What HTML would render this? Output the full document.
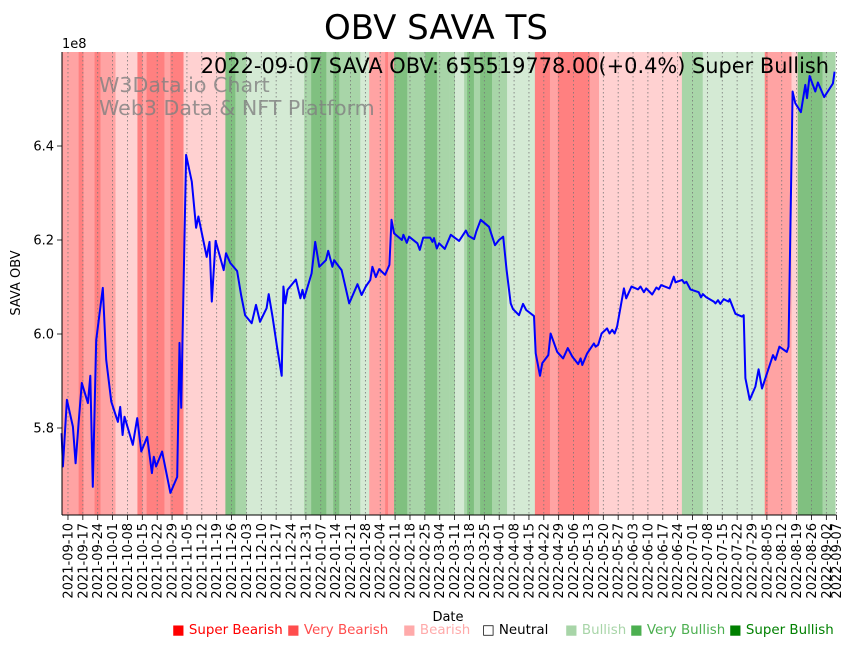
<!DOCTYPE html>
<html><head><meta charset="utf-8"><style>
html,body{margin:0;padding:0;background:#fff;}
svg{display:block;font-family:"DejaVu Sans","Liberation Sans",sans-serif;}
</style></head><body>
<svg id="chart" width="855" height="646" viewBox="0 0 855 646" xmlns="http://www.w3.org/2000/svg">
<rect width="855" height="646" fill="#fff"/>
<text x="436" y="39" font-size="34" text-anchor="middle">OBV SAVA TS</text>
<g id="bands"></g>
<g id="grid"></g>
<text x="99" y="92" font-size="20.6" fill="#808080" fill-opacity="0.8">W3Data.io Chart</text>
<text x="99" y="115" font-size="20.6" fill="#808080" fill-opacity="0.8">Web3 Data &amp; NFT Platform</text>
<g id="line"></g>
<text x="829" y="73" font-size="20.9" text-anchor="end">2022-09-07 SAVA OBV: 655519778.00(+0.4%) Super Bullish</text>
<g id="axes"></g>
<text x="62" y="48" font-size="13">1e8</text>
<text transform="translate(20,283) rotate(-90)" font-size="13" text-anchor="middle">SAVA OBV</text>
<text x="448" y="621" font-size="13" text-anchor="middle">Date</text>
<g id="legend" font-size="13.4"></g>
</svg>
<script>
const dayOffsets=[0,0.6,2.5,5.3,6.6,8,9.5,12.4,13.5,14.7,16.3,19.4,21,23.4,26.5,27.6,28.7,29.6,33.5,35.6,37.5,40.3,42.5,43.4,44.5,47.3,51.2,54.4,55.5,56.3,58.6,61.3,63.3,64.4,68.3,69.6,70.7,72.5,76.3,77.4,79.4,82.6,84.5,86.4,89.5,91.5,93.4,96.5,97.5,99.3,101.4,103.6,104.4,105.3,106.4,110.3,112.4,113.4,114.2,117.7,119.4,121.3,124.4,125.5,127.5,128.3,131.8,135.4,139.3,141.2,143.2,145.3,146.3,147.9,149.5,152.3,154.3,155.3,156.5,160.2,160.9,162.5,163.6,167.5,168.6,170.2,173.5,174.6,175.3,176.6,177.7,180.4,183.2,187.1,190.3,191.5,194.2,195.2,197.3,201.2,204.0,205.9,207.9,209.5,211.4,212.5,215.3,217.2,218.7,222.4,223.2,225.2,226.3,229.1,230.2,233.3,236.1,238.3,240.4,243.2,244.3,245.1,247.4,250.6,251.4,252.6,254.2,256.8,257.9,259.2,260.3,261.5,264.7,265.8,268.3,271.4,272.5,274.1,275.2,278.0,280.0,281.1,282.2,286.2,288.2,289.0,292.1,293.2,294.1,296.0,299.9,301.0,301.9,303.5,307.0,307.8,309.0,310.1,311.7,314.0,314.5,317.2,320.3,321.1,321.9,323.9,326.6,328.1,329.7,334.9,336.0,337.9,341.4,342.2,344.1,345.4,348.0,350.1,350.9,352.1,354.8,356.0,359.0,363.1,363.9];
const obvValues=[5.789,5.718,5.860,5.803,5.725,5.811,5.896,5.853,5.911,5.675,5.987,6.098,5.945,5.856,5.813,5.845,5.785,5.824,5.764,5.821,5.750,5.781,5.704,5.739,5.718,5.750,5.662,5.696,5.981,5.843,6.381,6.324,6.226,6.250,6.164,6.196,6.069,6.198,6.136,6.172,6.151,6.134,6.083,6.040,6.023,6.062,6.026,6.055,6.085,6.037,5.973,5.911,6.101,6.065,6.094,6.116,6.076,6.094,6.076,6.129,6.196,6.143,6.157,6.177,6.143,6.157,6.136,6.065,6.106,6.083,6.101,6.115,6.143,6.121,6.138,6.126,6.147,6.243,6.214,6.200,6.211,6.194,6.207,6.193,6.179,6.205,6.205,6.196,6.204,6.182,6.193,6.181,6.211,6.198,6.220,6.209,6.202,6.218,6.243,6.228,6.189,6.200,6.207,6.136,6.065,6.053,6.040,6.064,6.051,6.038,5.959,5.911,5.938,5.955,6.001,5.962,5.948,5.970,5.952,5.936,5.948,5.934,5.959,5.980,5.973,5.977,6.001,6.012,6.001,6.009,6.001,6.016,6.097,6.076,6.101,6.095,6.101,6.089,6.097,6.084,6.099,6.095,6.104,6.097,6.122,6.110,6.115,6.108,6.111,6.095,6.089,6.078,6.085,6.078,6.069,6.065,6.072,6.064,6.074,6.069,6.074,6.043,6.037,6.040,5.906,5.860,5.888,5.925,5.884,5.955,5.945,5.973,5.962,5.973,6.516,6.491,6.472,6.530,6.502,6.549,6.516,6.535,6.504,6.533,6.558];
const bandStart=[0,8,10.3,15.5,18.3,25.4,35.7,38.1,40,48.4,51.2,57.4,77.1,81.8,87,114.2,117.5,124.6,127.9,130.7,140.6,144.8,152.3,153.7,156.5,162.7,171.1,176.8,182.4,185.2,189.5,190.9,194.1,197,202.6,209.7,222.8,229.9,233.6,248.7,253,292,301.8,331,332.4,343.6,346.5,358.2];
const bandCat=[1,0,1,0,1,2,0,1,0,1,0,2,6,5,4,5,6,5,6,5,4,1,0,1,6,5,6,5,5,4,5,6,5,6,5,4,0,1,0,1,2,5,4,0,1,2,6,5];
const yTicks=[5.8,6.0,6.2,6.4];
const yTickLabels=["5.8","6.0","6.2","6.4"];
const catNames=["Super Bearish","Very Bearish","Bearish","Neutral","Bullish","Very Bullish","Super Bullish"];
const START=new Date(Date.UTC(2021,8,7));
const END_DAY=364.2;
const L=62,R=836.5,T=52,B=515;
const ns="http://www.w3.org/2000/svg";
function X(d){return 61.6+d*2.1243;}
function Y(v){return 334-(v-6)*470;}
function mk(tag,attrs,parent){const e=document.createElementNS(ns,tag);for(const k in attrs)e.setAttribute(k,attrs[k]);parent.appendChild(e);return e;}
const bandFill=["#ff8080","#ffa3a3","#ffd1d1","#ffffff","#d4ead4","#a8d5a8","#80c080"];
const bg=document.getElementById('bands');
for(let i=0;i<bandStart.length;i++){
  const x1=Math.max(L,X(bandStart[i])),x2=Math.min(R,X(i+1<bandStart.length?bandStart[i+1]:END_DAY));
  const r=mk('rect',{x:x1,y:T,width:Math.max(0,x2-x1)+0.3,height:B-T,fill:bandFill[bandCat[i]]},bg);
  
  
}
const grid=document.getElementById('grid'),axes=document.getElementById('axes');
function fmt(d){const t=new Date(START.getTime()+d*86400000);return t.getUTCFullYear()+'-'+String(t.getUTCMonth()+1).padStart(2,'0')+'-'+String(t.getUTCDate()).padStart(2,'0');}
const tickDays=[];for(let d=3;d<=360;d+=7)tickDays.push(d);tickDays.push(365);
tickDays.forEach(d=>{
  const x=Math.min(X(d),R);
  const g=mk('line',{x1:x,y1:T,x2:x,y2:B,stroke:'#777','stroke-width':0.8,'stroke-dasharray':'1.5,2.5'},grid);
  
  
  mk('line',{x1:x,y1:B,x2:x,y2:B+5,stroke:'#000','stroke-width':0.8},axes);
  const t=mk('text',{transform:`translate(${x+4.5},${B+8}) rotate(-90)`,'font-size':13,'text-anchor':'end'},axes);
  t.textContent=fmt(d);
  
  
});
yTicks.forEach((v,i)=>{
  const y=Y(v);
  mk('line',{x1:L-5,y1:y,x2:L,y2:y,stroke:'#000','stroke-width':0.8},axes);
  const t=mk('text',{x:L-8,y:y+4.5,'font-size':13,'text-anchor':'end'},axes);
  t.textContent=yTickLabels[i];
  
  
});
mk('line',{x1:L,y1:T,x2:L,y2:B,stroke:'#000','stroke-width':1},axes);
mk('line',{x1:L,y1:B,x2:R,y2:B,stroke:'#000','stroke-width':1},axes);
const lg=document.getElementById('line');
const pts=dayOffsets.map((d,i)=>X(d).toFixed(1)+','+Y(obvValues[i]).toFixed(1)).join(' ');
const pl=mk('polyline',{points:pts,fill:'none',stroke:'#0000ff','stroke-width':2,'stroke-linejoin':'round'},lg);


const legX=[172,287,403,482,565,630,729];
const legColor=["#ff0000","#ff4d4d","#ffaaaa","#000000","#a8d5a8","#4caf50","#008000"];
const leg=document.getElementById('legend');
catNames.forEach((n,i)=>{
  const t=mk('text',{x:legX[i],y:634,fill:legColor[i]},leg);
  t.textContent=(i==3?'\u25A1 ':'\u25A0 ')+n;
  
  
});
</script>
</body></html>
